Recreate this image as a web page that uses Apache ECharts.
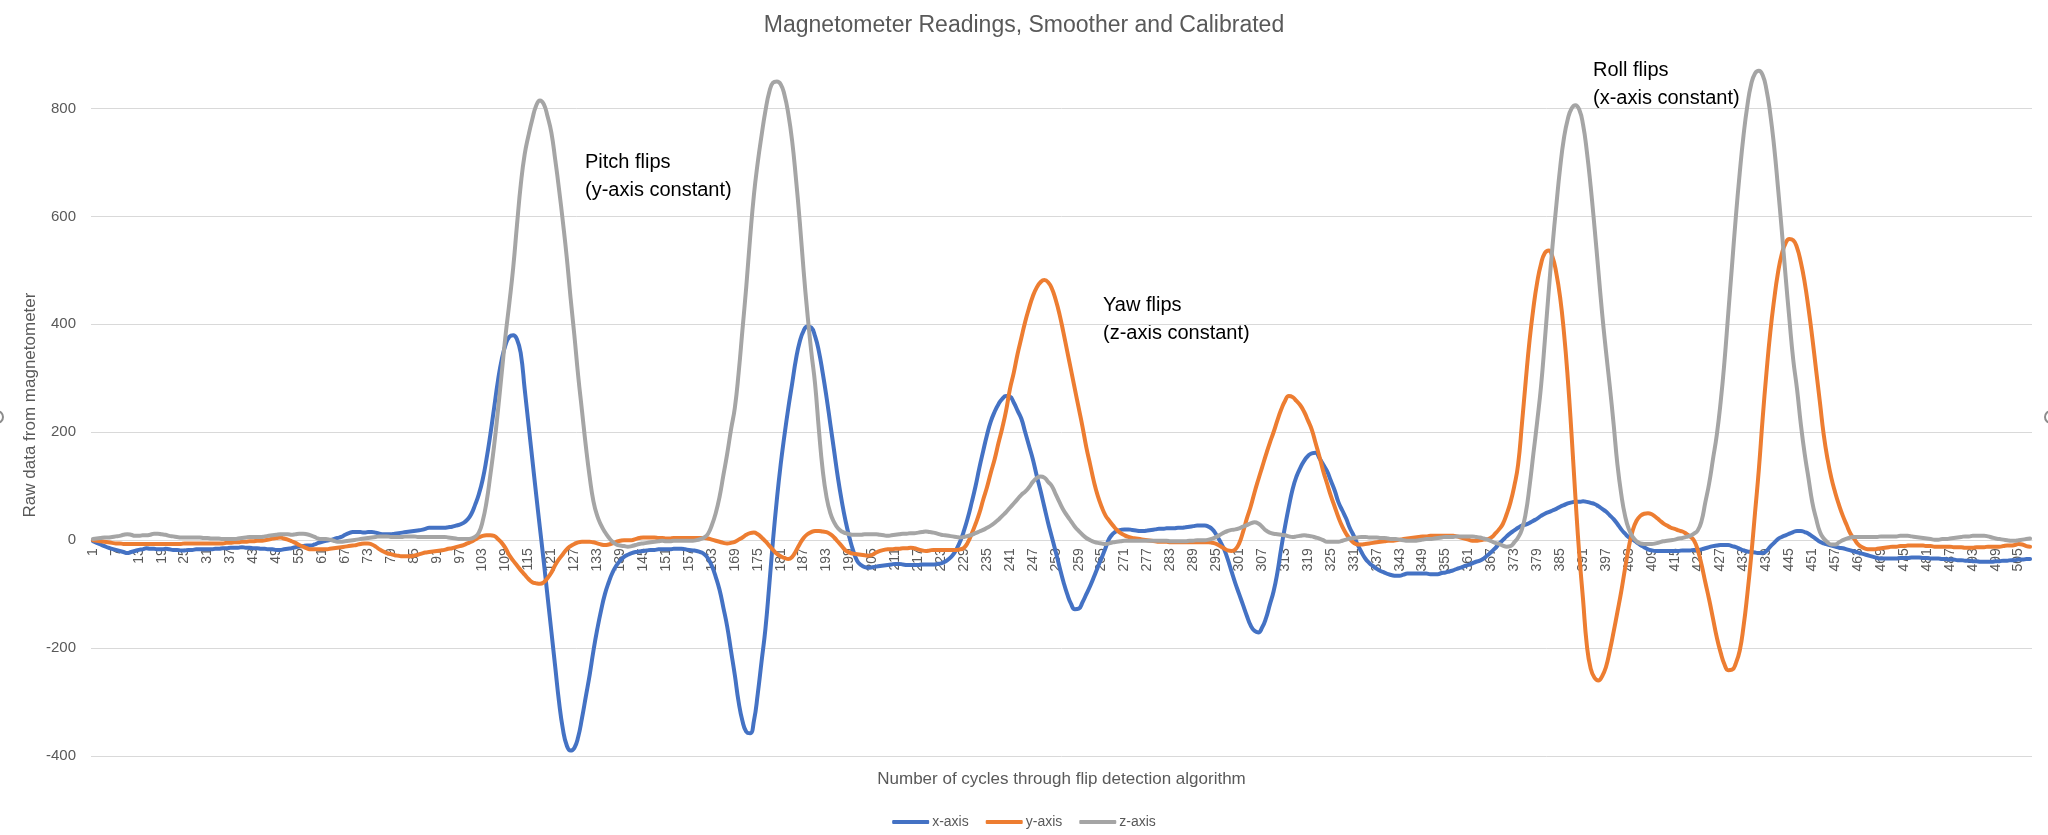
<!DOCTYPE html>
<html><head><meta charset="utf-8">
<script src="https://cdn.jsdelivr.net/npm/echarts@6/dist/echarts.min.js"></script>
<style>html,body{margin:0;padding:0;background:#fff}#c{width:2048px;height:835px}</style>
</head><body><div id="c"></div>
<script>
// Categories: cycle number 1..508
const categories = Array.from({length: 508}, (_, i) => String(i + 1));

const xAxisValues = [
-2,-5,-8,-11,-14,-16,-18,-20,-22,-24,
-22,-20,-18,-17,-15,-16,-16,-17,-17,-16,
-17,-18,-18,-19,-19,-18,-18,-17,-17,-17,
-17,-17,-16,-16,-15,-15,-14,-14,-14,-13,
-14,-14,-15,-15,-16,-16,-17,-17,-18,-18,
-17,-16,-15,-13,-12,-11,-10,-10,-8,-5,
-3,-1,0,2,4,6,10,13,15,15,
15,14,15,15,14,12,11,11,11,12,
13,14,15,16,17,18,19,21,23,23,
23,23,23,24,25,27,29,32,38,48,
65,85,112,150,195,245,295,335,362,377,
380,372,345,280,215,150,85,22,-40,-105,
-170,-235,-300,-350,-380,-390,-385,-365,-330,-290,
-250,-205,-165,-130,-100,-78,-60,-47,-38,-31,
-27,-24,-22,-21,-20,-19,-18,-18,-17,-17,
-17,-17,-16,-16,-16,-17,-18,-19,-20,-22,
-26,-34,-48,-68,-92,-125,-160,-205,-250,-300,
-335,-355,-358,-335,-285,-225,-165,-85,0,75,
140,195,245,290,335,368,388,396,394,378,
350,310,265,215,165,115,72,35,5,-20,
-38,-46,-50,-51,-50,-49,-48,-47,-46,-45,
-44,-44,-45,-46,-46,-46,-46,-45,-45,-45,
-45,-44,-43,-40,-35,-28,-17,-2,18,42,
70,100,134,165,195,220,238,252,262,267,
266,255,240,225,200,175,150,120,92,62,
32,5,-22,-50,-77,-100,-118,-128,-127,-115,
-100,-85,-68,-50,-33,-15,3,12,17,19,
20,20,19,18,17,17,18,19,20,21,
21,22,22,22,23,23,24,25,26,27,
27,27,25,20,10,-2,-16,-35,-58,-80,
-100,-120,-140,-158,-168,-171,-162,-145,-120,-95,
-60,-15,25,62,95,118,134,147,156,161,
162,152,140,128,110,92,70,55,40,22,
8,-8,-22,-34,-42,-48,-53,-57,-60,-63,
-65,-66,-66,-64,-62,-62,-62,-62,-62,-62,
-63,-63,-63,-61,-60,-58,-56,-53,-51,-48,
-46,-43,-40,-38,-34,-28,-22,-15,-7,0,
7,13,18,23,27,29,32,36,40,45,
49,52,55,58,62,65,68,70,71,71,
72,71,69,67,63,58,53,46,39,30,
20,12,5,1,-4,-9,-13,-17,-19,-20,
-20,-20,-20,-20,-20,-20,-19,-19,-19,-18,
-18,-17,-15,-13,-11,-10,-9,-9,-9,-11,
-13,-16,-19,-21,-22,-23,-24,-24,-20,-12,
-5,2,6,9,12,15,17,17,15,12,
7,2,-3,-6,-8,-10,-12,-14,-15,-17,
-19,-21,-23,-25,-27,-29,-31,-33,-34,-34,
-34,-34,-34,-33,-33,-33,-32,-32,-32,-33,
-33,-34,-34,-34,-35,-35,-36,-36,-37,-37,
-38,-38,-39,-39,-40,-40,-40,-40,-39,-39,
-38,-38,-37,-37,-36,-36,-35,-35
];

const yAxisValues = [
0,-1,-2,-3,-4,-5,-6,-6,-7,-7,
-7,-7,-7,-7,-7,-7,-7,-7,-7,-7,
-7,-7,-7,-7,-6,-6,-6,-6,-6,-6,
-6,-6,-6,-6,-6,-5,-5,-4,-4,-3,
-3,-2,-2,-1,-1,0,1,3,4,5,
3,1,-2,-5,-9,-12,-15,-17,-17,-17,
-17,-17,-16,-15,-14,-13,-12,-11,-10,-9,
-7,-6,-6,-8,-12,-17,-21,-24,-26,-28,
-29,-30,-30,-30,-29,-27,-25,-23,-22,-21,
-20,-19,-18,-16,-15,-13,-11,-9,-6,-3,
1,5,8,9,9,8,2,-5,-15,-28,
-38,-47,-56,-64,-72,-78,-80,-81,-78,-70,
-60,-46,-35,-26,-17,-11,-7,-4,-3,-3,
-3,-4,-6,-8,-9,-8,-6,-3,-1,0,
0,0,2,4,5,5,5,5,4,4,
3,3,4,4,4,4,4,4,4,4,
4,3,1,-1,-3,-5,-6,-5,-3,1,
5,10,13,14,11,5,-2,-10,-18,-25,
-30,-33,-35,-31,-20,-7,4,11,15,17,
17,16,15,11,5,-3,-11,-19,-23,-25,
-26,-27,-28,-29,-27,-23,-20,-18,-17,-17,
-16,-16,-15,-15,-14,-15,-17,-19,-20,-19,
-18,-18,-18,-18,-18,-18,-18,-17,-14,-4,
12,30,50,75,98,125,150,180,208,240,
280,310,345,375,405,430,452,468,478,482,
478,466,445,418,385,350,315,280,245,210,
172,140,108,82,62,46,36,27,19,13,
9,6,4,3,2,1,0,-1,-2,-3,
-3,-3,-4,-4,-4,-4,-4,-4,-4,-4,
-4,-4,-4,-5,-7,-11,-15,-19,-20,-17,
-6,15,40,62,88,112,135,158,180,200,
222,242,258,267,265,258,250,238,222,205,
180,155,128,105,82,62,42,25,12,2,
-5,-8,-8,-7,-6,-5,-4,-3,-2,-1,
-1,0,1,2,3,4,5,6,7,7,
8,8,8,8,8,8,8,7,5,3,
1,-1,-1,0,1,2,5,12,20,30,
48,70,100,140,215,295,370,430,478,512,
532,537,525,495,450,385,300,195,80,-25,
-110,-195,-238,-255,-260,-252,-235,-205,-170,-133,
-95,-52,-12,18,36,45,49,50,48,43,
37,31,27,23,21,18,16,12,7,0,
-18,-45,-78,-110,-145,-180,-208,-230,-241,-240,
-228,-205,-160,-100,-30,50,130,225,310,385,
445,495,530,550,558,556,542,515,478,430,
375,315,255,195,150,115,88,65,45,28,
12,2,-8,-13,-16,-17,-17,-16,-15,-14,
-13,-12,-12,-11,-11,-10,-10,-10,-10,-10,
-11,-11,-12,-12,-12,-12,-12,-13,-13,-13,
-14,-14,-14,-13,-13,-13,-12,-12,-12,-12,
-11,-10,-10,-9,-7,-8,-11,-12
];

const zAxisValues = [
2,3,4,5,5,6,7,8,10,11,
10,8,8,9,9,10,12,12,11,10,
8,7,6,5,5,5,5,5,5,4,
4,3,3,3,2,2,2,2,3,4,
5,6,6,6,6,7,8,9,10,11,
11,11,10,11,12,12,11,9,6,3,
2,2,1,-1,-3,-3,-2,-1,0,1,
2,3,4,5,6,7,7,7,6,6,
6,6,7,7,7,6,6,6,6,6,
6,6,6,5,4,3,2,2,2,3,
6,14,35,70,120,175,240,310,380,440,
505,585,660,715,750,780,805,815,808,785,
755,705,650,590,525,450,380,305,240,175,
118,72,45,28,15,5,-3,-8,-10,-11,
-12,-11,-9,-7,-6,-5,-4,-3,-2,-1,
-2,-2,-1,-1,-1,-1,-1,-1,0,2,
5,12,28,50,80,120,160,205,245,310,
390,470,560,640,700,750,795,830,848,850,
845,825,790,740,670,590,500,420,350,290,
205,130,80,50,33,22,16,13,11,10,
10,10,11,11,11,11,10,9,8,9,
10,11,12,12,13,13,14,15,16,15,
14,12,10,9,8,7,6,5,6,8,
10,13,16,19,23,27,32,38,45,52,
60,68,76,84,90,98,108,115,118,116,
108,100,85,70,56,45,35,25,17,10,
4,0,-3,-5,-6,-7,-6,-4,-3,-2,
-1,-1,-1,-1,-1,-1,-1,-1,-1,-1,
-1,-1,-2,-2,-2,-2,-2,-1,-1,0,
0,0,1,3,6,10,14,17,19,20,
22,25,28,31,33,31,25,18,14,12,
11,10,9,7,6,7,8,9,8,7,
5,3,0,-3,-3,-3,-3,-1,1,3,
4,5,6,6,5,5,5,4,4,3,
2,2,1,0,-1,-1,-1,0,1,2,
2,3,4,5,6,6,6,7,7,7,
7,7,6,5,3,1,-2,-5,-7,-10,
-12,-11,-4,5,20,50,100,160,220,285,
370,460,545,620,690,745,780,800,806,798,
770,720,655,580,500,420,350,285,215,140,
85,45,20,6,-2,-6,-7,-7,-7,-6,
-4,-2,-1,0,1,3,4,6,8,12,
18,35,70,105,150,195,255,330,420,510,
600,680,750,805,845,865,870,862,835,790,
730,655,575,490,410,335,280,215,160,115,
70,40,15,3,-4,-8,-8,-4,0,3,
5,6,6,6,6,6,6,6,7,7,
7,7,7,8,8,8,7,6,5,4,
3,2,1,1,2,2,3,4,5,6,
7,7,8,8,8,8,7,5,3,2,
1,0,-1,-1,0,1,2,3
];

const seriesNames = ['x-axis', 'y-axis', 'z-axis'];
const seriesColors = ['#4472C4', '#ED7D31', '#A5A5A5'];
const seriesData = [xAxisValues, yAxisValues, zAxisValues];

const FONT = '"Liberation Sans", Arial, sans-serif';
const chart = echarts.init(document.getElementById('c'), null, {renderer: 'canvas'});

// y range of the plot: -400 .. 800 between grid bottom (756) and top (108.5)
const GRID_TOP = 108.5, GRID_BOTTOM = 79, Y_MIN = -400, Y_MAX = 800;
const plotH = 835 - GRID_TOP - GRID_BOTTOM;
const zeroOffset = -plotH * (0 - Y_MIN) / (Y_MAX - Y_MIN); // move category axis up to value 0

chart.setOption({
  animation: false,
  backgroundColor: '#fff',
  textStyle: {fontFamily: FONT},
  title: {
    text: 'Magnetometer Readings, Smoother and Calibrated',
    left: 'center', top: 9,
    textStyle: {fontSize: 23, fontWeight: 'normal', color: '#595959', fontFamily: FONT}
  },
  legend: {
    data: seriesNames, left: 'center', top: 810,
    itemWidth: 37, itemHeight: 4, itemGap: 17, icon: 'roundRect',
    textStyle: {fontSize: 14, color: '#595959', fontFamily: FONT, padding: [0, 0, 0, -2]}
  },
  grid: {left: 91, right: 16, top: GRID_TOP, bottom: GRID_BOTTOM, containLabel: false, outerBoundsMode: 'none'},
  xAxis: {
    type: 'category', data: categories, boundaryGap: true,
    position: 'bottom', offset: zeroOffset,
    axisLine: {show: true, onZero: false, lineStyle: {color: '#D9D9D9', width: 1}},
    axisTick: {show: false},
    axisLabel: {interval: 5, rotate: 90, fontSize: 14, color: '#595959', margin: 8, fontFamily: FONT},
    splitLine: {show: false},
    name: 'Number of cycles through flip detection algorithm',
    nameLocation: 'middle', nameGap: 231,
    nameTextStyle: {fontSize: 17, color: '#595959', fontFamily: FONT}
  },
  yAxis: {
    type: 'value', min: Y_MIN, max: Y_MAX, interval: 200,
    axisLine: {show: false}, axisTick: {show: false},
    splitLine: {lineStyle: {color: '#D9D9D9', width: 1}},
    axisLabel: {fontSize: 15, color: '#595959', margin: 15, fontFamily: FONT}
  },
  series: seriesNames.map((n, i) => ({
    name: n, type: 'line', data: seriesData[i],
    showSymbol: false, symbol: 'none', smooth: true, clip: false,
    color: seriesColors[i],
    lineStyle: {width: 4, color: seriesColors[i], cap: 'round', join: 'round'}
  })),
  graphic: [
    {type: 'text', x: 30, y: 405, rotation: Math.PI / 2,
     style: {text: 'Raw data from magnetometer', fontSize: 17, fill: '#595959', align: 'center', verticalAlign: 'middle', fontFamily: FONT}},
    {type: 'text', x: 585, y: 148,
     style: {text: 'Pitch flips\n(y-axis constant)', fontSize: 20, lineHeight: 28, fill: '#000', align: 'left', verticalAlign: 'top', fontFamily: FONT}},
    {type: 'text', x: 1103, y: 291,
     style: {text: 'Yaw flips\n(z-axis constant)', fontSize: 20, lineHeight: 28, fill: '#000', align: 'left', verticalAlign: 'top', fontFamily: FONT}},
    {type: 'text', x: 1593, y: 56,
     style: {text: 'Roll flips\n(x-axis constant)', fontSize: 20, lineHeight: 28, fill: '#000', align: 'left', verticalAlign: 'top', fontFamily: FONT}},
    {type: 'circle', shape: {cx: -3, cy: 417, r: 6}, style: {fill: '#fff', stroke: '#8c8c8c', lineWidth: 2}},
    {type: 'circle', shape: {cx: 2051, cy: 417, r: 6}, style: {fill: '#fff', stroke: '#8c8c8c', lineWidth: 2}}
  ]
});
</script>
</body></html>
